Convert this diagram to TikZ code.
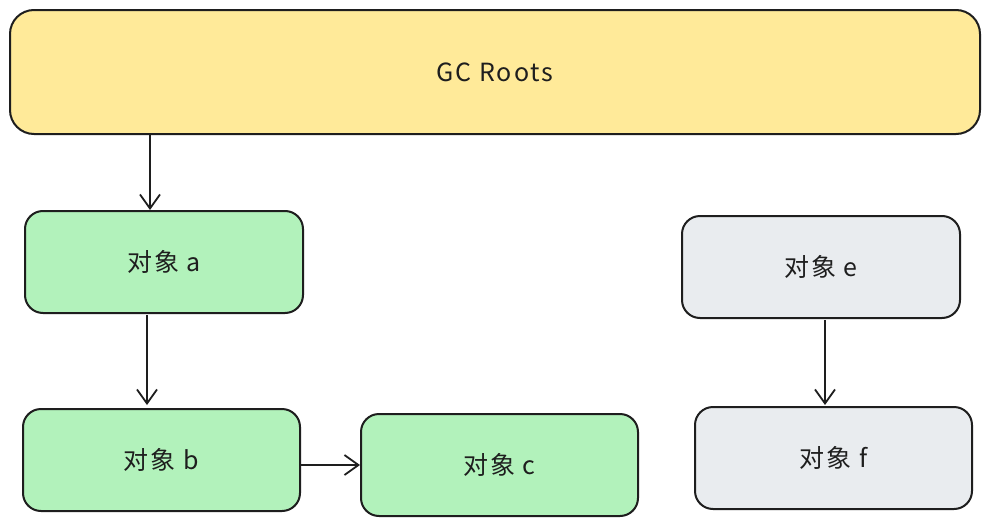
\documentclass[tikz,border=0pt]{standalone}
\usepackage{fontspec}
\setmainfont{Noto Sans CJK SC}[LetterSpace=8]
\usetikzlibrary{arrows.meta}
\definecolor{strokec}{HTML}{1E1E1E}
\definecolor{yellowf}{HTML}{FFEA99}
\definecolor{greenf}{HTML}{B2F2BB}
\definecolor{grayf}{HTML}{E9ECEF}
\begin{document}
\begin{tikzpicture}[x=1pt,y=-1pt,
  box/.style={draw=strokec,line width=2pt,rounded corners=18pt,font=\fontsize{25}{29}\selectfont,text=strokec},
  conn/.style={draw=strokec,line width=2pt,-{Straight Barb[length=14pt,width=20pt,line width=1.8pt]}}]
\useasboundingbox (0,0) rectangle (989,525);
\fill[white] (0,0) rectangle (989,525);
\node[box,fill=yellowf,rounded corners=24pt,minimum width=970pt,minimum height=124pt] (gc) at (495,72) {GC Roots};
\node[box,fill=greenf,minimum width=278pt,minimum height=102pt] (a) at (164,262) {对象 a};
\node[box,fill=greenf,minimum width=277pt,minimum height=102pt] (b) at (161.5,460) {对象 b};
\node[box,fill=greenf,minimum width=277pt,minimum height=102pt] (c) at (499.5,465) {对象 c};
\node[box,fill=grayf,minimum width=278pt,minimum height=102pt] (e) at (821,267) {对象 e};
\node[box,fill=grayf,minimum width=277pt,minimum height=102pt] (f) at (833.5,458) {对象 f};
\draw[conn] (gc.south -| 150,0) -- (a.north -| 150,0);
\draw[conn] (147,315) -- (147,405);
\draw[conn] (b.east |- 0,465) -- (c.west |- 0,465);
\draw[conn] (825,320) -- (825,405);
\end{tikzpicture}
\end{document}
